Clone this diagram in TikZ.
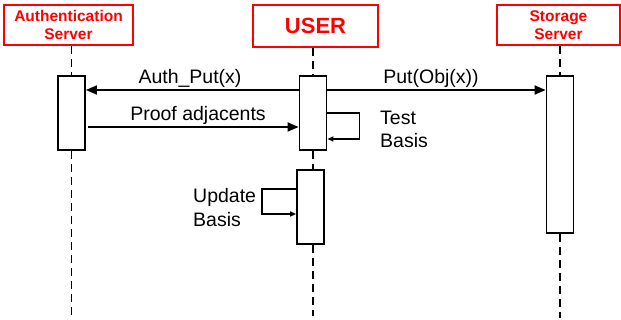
\documentclass[tikz,border=0pt]{standalone}
\usepackage{fontspec}
\setmainfont{Liberation Sans}
\usetikzlibrary{arrows.meta}
\begin{document}
\begin{tikzpicture}[x=1pt,y=-1pt,
  header/.style={draw=red,line width=2.6pt,text=red,align=center,inner sep=0pt},
  act/.style={draw=black,line width=1.8pt,fill=white,minimum width=27pt,inner sep=0pt},
  life/.style={line width=1.3pt,dash pattern=on 8pt off 5pt},
  msg/.style={line width=1.8pt,-{Triangle[length=11pt,width=9pt]}},
  loop/.style={line width=1.8pt,-{Triangle[length=6pt,width=5pt]}},
  lbl/.style={font=\fontsize{19.5}{23}\selectfont,inner sep=0pt},
]
\useasboundingbox (0,0) rectangle (621,320);
% headers
\node[header,minimum width=129pt,minimum height=40pt,font=\bfseries\fontsize{15.5}{18}\selectfont] (auth) at (68.5,25) {Authentication\\Server};
\node[header,minimum width=125pt,minimum height=42pt,font=\bfseries\fontsize{22}{24}\selectfont] (user) at (315.5,26) {USER};
\node[header,minimum width=123pt,minimum height=40pt,font=\bfseries\fontsize{15.5}{18}\selectfont] (stor) at (558.5,25) {Storage\\Server};
% activation boxes
\node[act,minimum height=74pt] (a1) at (71.5,113) {};
\node[act,minimum height=74pt] (u1) at (313,113) {};
\node[act,minimum height=74pt] (u2) at (310.5,207) {};
\node[act,minimum height=157pt] (s1) at (560,154.5) {};
% end points of lifelines
\coordinate (ae) at (71.5,316);
\coordinate (ue) at (313,316);
\coordinate (se) at (560,318);
% lifelines
\draw[life] (a1.north |- auth.south) -- (a1.north);
\draw[life] (a1.south) -- (ae);
\draw[life] (u1.north |- user.south) -- (u1.north);
\draw[life] (u1.south) -- (u1.south |- u2.north);
\draw[life] (u1.south |- u2.south) -- (ue);
\draw[life] (s1.north |- stor.south) -- (s1.north);
\draw[life] (s1.south) -- (se);
% message rows
\coordinate (r1) at (0,90);
\coordinate (r2) at (0,127);
\draw[msg] (u1.west |- r1) -- (a1.east |- r1);
\node[lbl,anchor=base] (l1) at (190,84) {Auth\_Put(x)};
\draw[msg] (u1.east |- r1) -- (s1.west |- r1);
\node[lbl,anchor=base] (l2) at (431,84) {Put(Obj(x))};
\draw[msg] ([xshift=2pt]a1.east |- r2) -- (u1.west |- r2);
\node[lbl,anchor=base] (l3) at (198,121) {Proof adjacents};
% self loops
\coordinate (t1) at (0,113);
\coordinate (t2) at (0,139);
\draw[loop] (u1.east |- t1) -- ++(32,0) |- (u1.east |- t2);
\node[lbl,align=left,anchor=base west] (tb) at (380,148) {Test\\Basis};
\coordinate (p1) at (0,189);
\coordinate (p2) at (0,214);
\draw[loop] (u2.west |- p1) -- ++(-34,0) |- (u2.west |- p2);
\node[lbl,align=left,anchor=base west,font=\fontsize{19.5}{24.5}\selectfont] (ub) at (193,227) {Update\\Basis};
\end{tikzpicture}
\end{document}
